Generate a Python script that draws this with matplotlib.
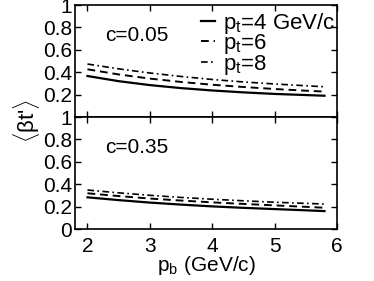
import matplotlib
matplotlib.use('Agg')
import matplotlib.pyplot as plt
import numpy as np

plt.rcParams['font.family'] = ['Liberation Sans', 'DejaVu Sans']
plt.rcParams['mathtext.fontset'] = 'custom'
plt.rcParams['mathtext.rm'] = 'Liberation Sans'
plt.rcParams['mathtext.it'] = 'Liberation Sans:italic'

# data
pb = [2.0, 2.5, 3.0, 3.5, 4.0, 4.5, 5.0, 5.5, 5.8]
top_pt4 = [0.366, 0.320, 0.285, 0.258, 0.237, 0.220, 0.206, 0.196, 0.190]
top_pt6 = [0.426, 0.380, 0.343, 0.313, 0.288, 0.268, 0.250, 0.235, 0.227]
top_pt8 = [0.473, 0.430, 0.393, 0.362, 0.335, 0.313, 0.295, 0.279, 0.270]
bot_pt4 = [0.283, 0.258, 0.236, 0.218, 0.202, 0.189, 0.178, 0.167, 0.160]
bot_pt6 = [0.319, 0.294, 0.272, 0.254, 0.238, 0.224, 0.211, 0.198, 0.190]
bot_pt8 = [0.348, 0.323, 0.301, 0.282, 0.266, 0.252, 0.239, 0.229, 0.223]
labels = [r'$\mathrm{p_t}$=4 GeV/c', r'$\mathrm{p_t}$=6', r'$\mathrm{p_t}$=8']
panel_text = ['c=0.05', 'c=0.35']
xticks = [2, 3, 4, 5, 6]

fs = 15
fig = plt.figure(figsize=(3.74, 2.81), dpi=100)
ax1 = fig.add_axes([0.2005, 0.5836, 0.7005, 0.3986])
ax2 = fig.add_axes([0.2005, 0.1850, 0.7005, 0.3986])

styles = [dict(ls='-', lw=1.6), dict(ls=(0, (4, 2.5)), lw=1.4), dict(ls=(0, (4, 2, 1, 2)), lw=1.2)]

for ax, series, txt in [(ax1, [top_pt4, top_pt6, top_pt8], panel_text[0]),
                        (ax2, [bot_pt4, bot_pt6, bot_pt8], panel_text[1])]:
    for y, st, lab in zip(series, styles, labels):
        ax.plot(pb, y, color='k', label=lab, **st)
    ax.set_xlim(1.8, 6)
    ax.set_ylim(0, 1)
    ax.set_xticks(xticks)
    ax.tick_params(direction='in', top=True, right=True, length=4, width=1, labelsize=fs, pad=2)
    for s in ax.spines.values():
        s.set_linewidth(1.2)
    ax.text(2.28, 0.73, txt, fontsize=fs, va='center', ha='left')

ax1.set_yticks([0.2, 0.4, 0.6, 0.8, 1.0])
ax1.set_yticklabels(['0.2', '0.4', '0.6', '0.8', '1'])
ax1.set_xticklabels([])
ax2.set_yticks([0, 0.2, 0.4, 0.6, 0.8, 1.0])
ax2.set_yticklabels(['0', '0.2', '0.4', '0.6', '0.8', '1'])
ax2.set_xticklabels([str(t) for t in xticks])
ax2.tick_params(axis='x', pad=6)

ax1.legend(loc='upper right', bbox_to_anchor=(1.0, 0.96), frameon=False, fontsize=16,
           handlelength=0.6, handletextpad=0.4, labelspacing=-0.15,
           borderaxespad=0.0, borderpad=0.05)

fig.text(0.072, 0.57, r"$\langle$βt'$\rangle$", rotation=90, fontsize=16,
         ha='center', va='center')
ax2.set_xlabel(r'$\mathrm{p_b}$ (GeV/c)', fontsize=fs, labelpad=-2)

plt.savefig('out.png', dpi=100)
